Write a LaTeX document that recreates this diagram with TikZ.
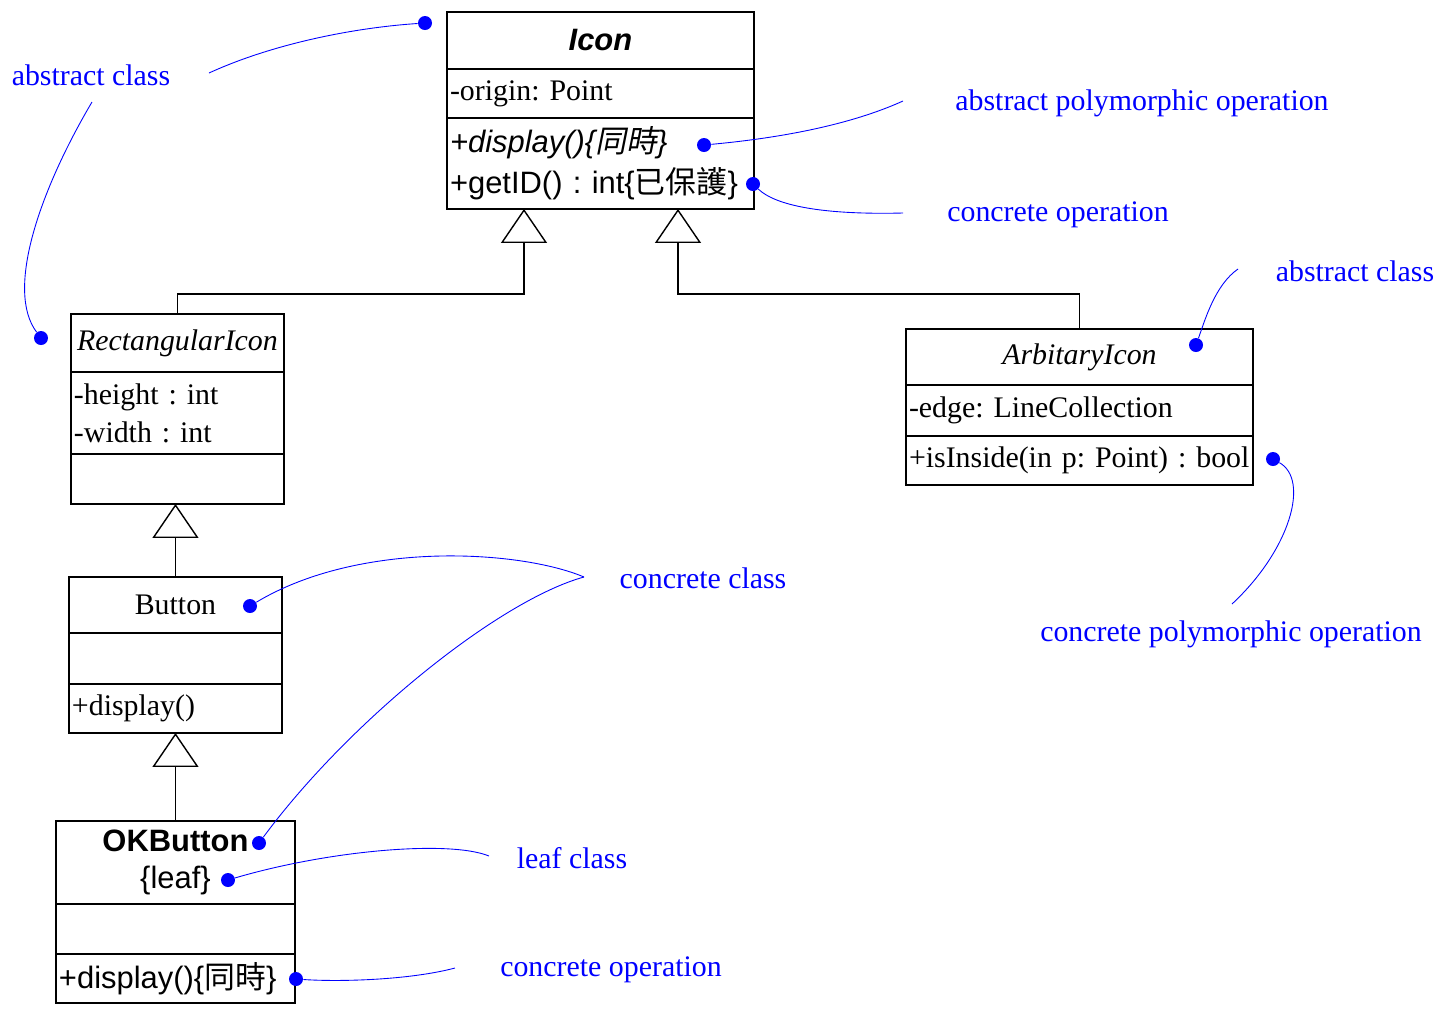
\documentclass[tikz,border=0pt]{standalone}
\usepackage{fontspec}
\setmainfont{Liberation Serif}
\setsansfont{Liberation Sans}
\newfontfamily\cjk{Noto Sans CJK TC}
\newfontfamily\cjksl[FakeSlant=0.2]{Noto Sans CJK TC}
\usepackage{tikz}
\usetikzlibrary{arrows.meta,positioning}
\definecolor{noteblue}{RGB}{0,0,255}
\frenchspacing

\begin{document}
\begin{tikzpicture}[x=0.02cm, y=-0.02cm,
    classbox/.style={draw, line width=1.1pt, inner xsep=0.06cm, inner ysep=0pt,
        outer sep=0pt, font=\fontsize{17}{21}\selectfont},
    partL/.style={classbox, text width=#1, align=left},
    partC/.style={classbox, minimum width=#1, align=center},
    gen/.style={line width=0.8pt,
        -{Triangle[open, length=0.68cm, width=0.92cm, line width=0.8pt]}},
    note/.style={text=noteblue, font=\fontsize{17}{21}\selectfont},
    dot/.style={circle, fill=noteblue, inner sep=0pt, minimum size=0.28cm},
    noteline/.style={noteblue, line width=0.5pt}
]
    \useasboundingbox (0,0) rectangle (1441,1009);

    % Icon
    \node[partC=6.14cm, minimum height=1.14cm, anchor=north west,
        font=\sffamily\bfseries\itshape\fontsize{17.6}{21}\selectfont] (icon) at (447,12) {Icon};
    \node[partL=6.02cm, minimum height=0.98cm, below=0pt of icon] (iconattr) {-origin: Point};
    \node[partL=6.02cm, minimum height=1.82cm, below=0pt of iconattr,
        font=\sffamily\fontsize{17.6}{23.2}\selectfont] (iconops)
        {\textit{+display()\{{\cjksl 同時}\}}\\+getID() : int\{{\cjk 已保護}\}};

    % RectangularIcon
    \node[partC=4.26cm, minimum height=1.16cm, anchor=north west,
        font=\itshape\fontsize{17}{21}\selectfont] (rect) at (71,314) {RectangularIcon};
    \node[partL=4.14cm, minimum height=1.64cm, below=0pt of rect,
        font=\fontsize{17}{21.5}\selectfont] (rectattr) {-height : int\\-width : int};
    \node[partC=4.26cm, minimum height=1.0cm, below=0pt of rectattr] (rectops) {};

    % Button
    \node[partC=4.26cm, minimum height=1.12cm, anchor=north west] (button) at (69,577) {Button};
    \node[partC=4.26cm, minimum height=1.02cm, below=0pt of button] (buttonattr) {};
    \node[partL=4.14cm, minimum height=0.98cm, below=0pt of buttonattr] (buttonops) {+display()};

    % OKButton
    \node[partC=4.78cm, minimum height=1.66cm, anchor=north west,
        font=\sffamily\fontsize{17.6}{21.5}\selectfont] (okbutton) at (56,821)
        {\textbf{OKButton}\\\{leaf\}};
    \node[partC=4.78cm, minimum height=1.0cm, below=0pt of okbutton] (okattr) {};
    \node[partL=4.66cm, minimum height=0.98cm, below=0pt of okattr,
        font=\sffamily\fontsize{17.6}{21}\selectfont] (okops) {+display()\{{\cjk 同時}\}};

    % ArbitaryIcon
    \node[partC=6.94cm, minimum height=1.12cm, anchor=north west,
        font=\itshape\fontsize{17}{21}\selectfont] (arb) at (906,329) {ArbitaryIcon};
    \node[partL=6.82cm, minimum height=1.02cm, below=0pt of arb] (arbattr) {-edge: LineCollection};
    \node[partL=6.82cm, minimum height=0.98cm, below=0pt of arbattr] (arbops) {+isInside(in p: Point) : bool};

    % generalizations
    \coordinate (jL) at (524,294);
    \coordinate (jR) at (678,294);
    \draw[gen] (rect.north) |- (jL) -- (jL |- iconops.south);
    \draw[gen] (arb.north) |- (jR) -- (jR |- iconops.south);
    \draw[gen] (button.north) -- (button.north |- rectops.south);
    \draw[gen] (okbutton.north) -- (okbutton.north |- buttonops.south);

    % notes
    \node[note] (nabsL) at (91,75) {abstract class};
    \node[note] (nabspoly) at (1142,103) {abstract polymorphic operation};
    \node[note] (nconcop) at (1058,215) {concrete operation};
    \node[note] (nabsR) at (1355,271) {abstract class};
    \node[note] (nconcpoly) at (1231,634) {concrete polymorphic operation};
    \node[note] (nconccls) at (703,578) {concrete class};
    \node[note] (nleaf) at (572,858) {leaf class};
    \node[note] (nconcop2) at (611,970) {concrete operation};

    \node[dot] (d1) at (425,23) {};
    \node[dot] (d2) at (41,338) {};
    \node[dot] (d3) at (704,145) {};
    \node[dot] (d4) at (753,184) {};
    \node[dot] (d5) at (1196,345) {};
    \node[dot] (d6) at (1273,459) {};
    \node[dot] (d7) at (250,606) {};
    \node[dot] (d8) at (259,843) {};
    \node[dot] (d9) at (228,880) {};
    \node[dot] (d10) at (296,979) {};

    \coordinate (c1) at (209,73);
    \coordinate (c2) at (92,102);
    \coordinate (c3) at (903,101);
    \coordinate (c4) at (903,213);
    \coordinate (c5) at (1238,269);
    \coordinate (c6) at (1232,604);
    \coordinate (c7) at (584,577);
    \coordinate (c9) at (489,856);
    \coordinate (c10) at (455,968);

    \draw[noteline] (c1) .. controls (270,45) and (350,28) .. (d1);
    \draw[noteline] (c2) .. controls (40,190) and (5,290) .. (d2);
    \draw[noteline] (c3) .. controls (850,125) and (780,138) .. (d3);
    \draw[noteline] (c4) .. controls (820,215) and (775,205) .. (d4);
    \draw[noteline] (c5) .. controls (1215,285) and (1205,320) .. (d5);
    \draw[noteline] (c6) .. controls (1290,550) and (1310,480) .. (d6);
    \draw[noteline] (c7) .. controls (520,550) and (360,540) .. (d7);
    \draw[noteline] (c7) .. controls (500,600) and (350,720) .. (d8);
    \draw[noteline] (c9) .. controls (450,840) and (330,850) .. (d9);
    \draw[noteline] (c10) .. controls (410,980) and (340,982) .. (d10);
\end{tikzpicture}
\end{document}
